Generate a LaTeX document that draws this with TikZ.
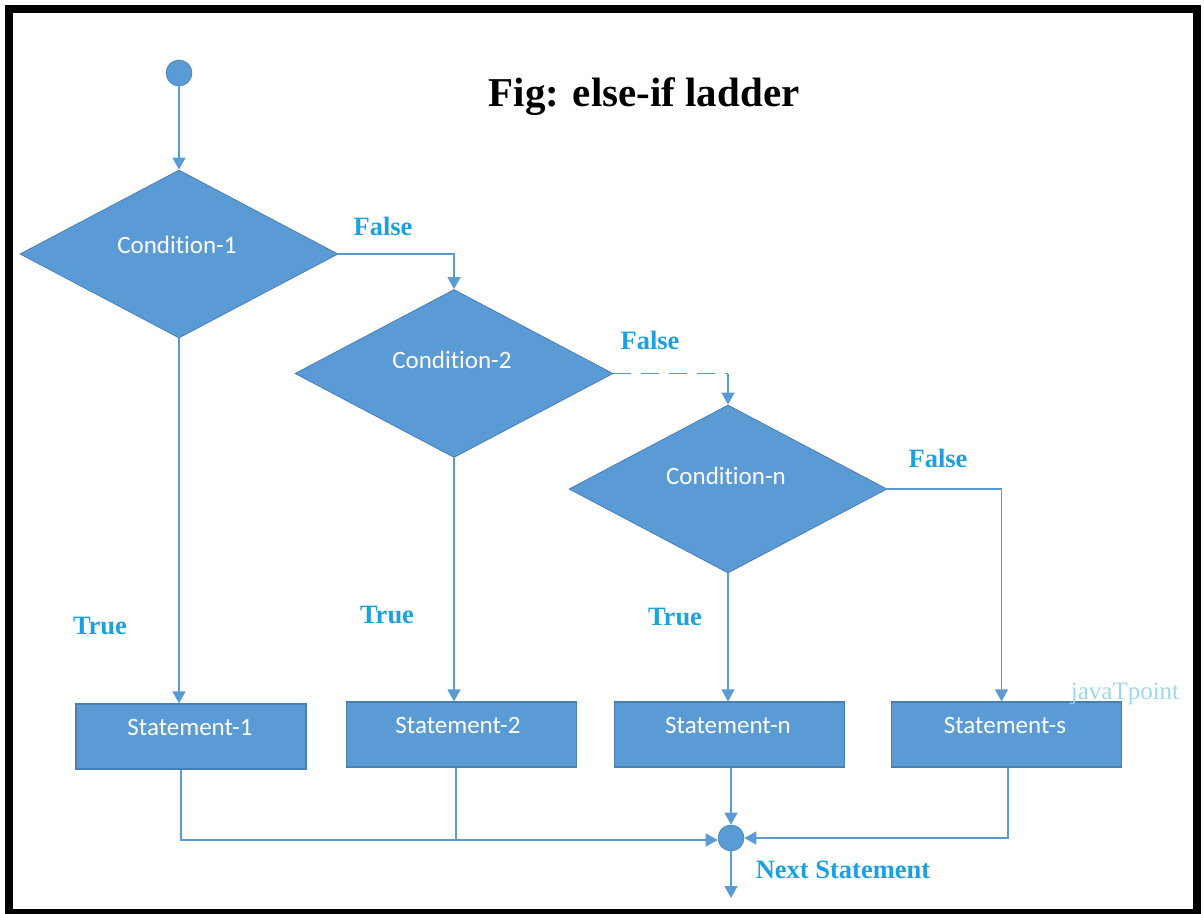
\documentclass[tikz,border=0pt]{standalone}
\usepackage{fontspec}
\setmainfont{Liberation Serif}
\newfontfamily\calfont[Ligatures={NoCommon,NoContextual}]{Carlito}
\usetikzlibrary{shapes.geometric,arrows.meta}
\definecolor{boxblue}{HTML}{5B9BD5}
\definecolor{boxedge}{HTML}{4A7FB5}
\definecolor{lbl}{HTML}{1BA1E2}
\definecolor{wm}{HTML}{9ED8EA}
\begin{document}
\begin{tikzpicture}[x=1pt,y=-1pt,
 dia/.style={diamond, fill=boxblue, draw=boxedge, line width=0.8pt, minimum width=318pt, minimum height=168pt, inner sep=0pt},
 stbox/.style={rectangle, fill=boxblue, draw=boxedge, line width=1.2pt, minimum width=230pt, minimum height=65pt, inner sep=0pt},
 intext/.style={text=white, font=\calfont\fontsize{25}{30}\selectfont, inner sep=0pt},
 lab/.style={text=lbl, font=\bfseries\fontsize{26.5}{30}\selectfont, inner sep=0pt},
 conn/.style={draw=boxblue, line width=1.3pt},
 arr/.style={conn, -{Triangle[length=12pt,width=13pt]}},
 dot/.style={circle, fill=boxblue, draw=boxedge, line width=0.6pt, minimum size=26pt, inner sep=0pt}]
\useasboundingbox (0,0) rectangle (1204,913);
\begin{scope}
\clip (0,0) rectangle (1204,913);
\draw[line width=8pt] (9,9) rectangle (1197,913);
\end{scope}
% title
\node[font=\bfseries\fontsize{41}{48}\selectfont, inner sep=0pt] (title) at (644,97) {Fig: else-if ladder};
% start
\node[dot] (start) at (179,73) {};
% diamonds
\node[dia] (c1) at (179,254) {};
\node[intext] (t1) at (177,245) {Condition-1};
\node[dia] (c2) at (454,373.5) {};
\node[intext] (t2) at (452,360) {Condition-2};
\node[dia] (c3) at (728,489) {};
\node[intext] (t3) at (726,476) {Condition-n};
% statements
\node[stbox] (s1) at (191,736.5) {};
\node[intext] (u1) at (190,727) {Statement-1};
\node[stbox] (s2) at (461.5,734.5) {};
\node[intext] (u2) at (458,725) {Statement-2};
\node[stbox] (sn) at (729.5,734.5) {};
\node[intext] (u3) at (728,725) {Statement-n};
\node[stbox] (ss) at (1006.5,734.5) {};
\node[intext] (u4) at (1005,725) {Statement-s};
% merge
\node[dot] (m) at (731,838) {};
\coordinate (mw) at ([yshift=-2pt]m.west);
\coordinate (out) at (731,898);
% connectors
\draw[arr] (start) -- (c1.north);
\draw[arr] (c1.east) -| (c2.north);
\coordinate (k2) at (c3.north |- c2.east);
\draw[conn, dash pattern=on 18pt off 10pt] (c2.east) -- (k2);
\draw[arr] (k2) -- (c3.north);
\draw[arr] (c3.east) -| ([xshift=-5pt]ss.north);
\draw[arr] (c1.south) -- (c1.south |- s1.north);
\draw[arr] (c2.south) -- (c2.south |- s2.north);
\draw[arr] (c3.south) -- (c3.south |- sn.north);
\draw[arr] ([xshift=-10pt]s1.south) |- (mw);
\draw[conn] ([xshift=-5.5pt]s2.south) -- ([xshift=-5.5pt]s2.south |- mw);
\draw[arr] ([xshift=1.5pt]sn.south) -- (m.north);
\draw[arr] ([xshift=1.5pt]ss.south) |- (m.east);
\draw[arr] (m.south) -- (out);
% labels
\node[lab] (f1) at (383,226) {False};
\node[lab] (f2) at (650,340) {False};
\node[lab] (f3) at (938,458) {False};
\node[lab] (r1) at (100,626) {True};
\node[lab] (r2) at (387,615) {True};
\node[lab] (r3) at (675,617) {True};
\node[lab] (nx) at (843,870) {Next Statement};
\node[text=wm, font=\fontsize{25}{30}\selectfont, inner sep=0pt] (wmk) at (1125,694) {javaTpoint};
\end{tikzpicture}
\end{document}
